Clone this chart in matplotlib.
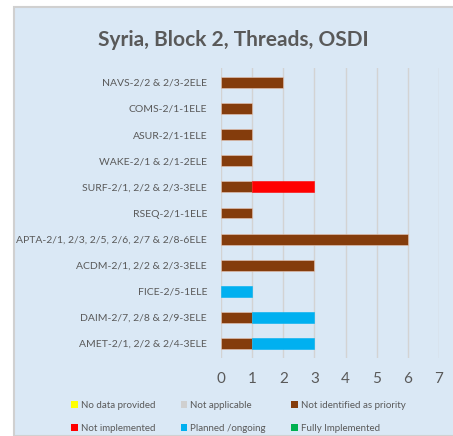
import matplotlib.pyplot as plt
import numpy as np
from matplotlib.patches import Rectangle, Patch

# categories from bottom to top
categories = ["AMET-2/1, 2/2 & 2/4-3ELE", "DAIM-2/7, 2/8 & 2/9-3ELE", "FICE-2/5-1ELE",
              "ACDM-2/1, 2/2 & 2/3-3ELE", "APTA-2/1, 2/3, 2/5, 2/6, 2/7 & 2/8-6ELE",
              "RSEQ-2/1-1ELE", "SURF-2/1, 2/2 & 2/3-3ELE", "WAKE-2/1 & 2/1-2ELE",
              "ASUR-2/1-1ELE", "COMS-2/1-1ELE", "NAVS-2/2 & 2/3-2ELE"]
no_data = [0, 0, 0, 0, 0, 0, 0, 0, 0, 0, 0]
not_applicable = [0, 0, 0, 0, 0, 0, 0, 0, 0, 0, 0]
not_priority = [1, 1, 0, 3, 6, 1, 1, 1, 1, 1, 2]
not_implemented = [0, 0, 0, 0, 0, 0, 2, 0, 0, 0, 0]
planned = [2, 2, 1, 0, 0, 0, 0, 0, 0, 0, 0]
fully = [0, 0, 0, 0, 0, 0, 0, 0, 0, 0, 0]

series_names = ["No data provided", "Not applicable", "Not identified as priority",
                "Not implemented", "Planned /ongoing", "Fully Implemented"]
series_colors = ["#FFFF00", "#D0D0D0", "#843C0C", "#FF0000", "#00B0F0", "#00B050"]
series_vals = [no_data, not_applicable, not_priority, not_implemented, planned, fully]

plt.rcParams['font.family'] = ['Lato', 'DejaVu Sans']

fig = plt.figure(figsize=(4.53, 4.36), dpi=100)
fig.patch.set_facecolor("white")
# light blue panel behind chart
fig.patches.append(Rectangle((14/453, 0), 1, 1 - 7/436, transform=fig.transFigure,
                             facecolor="#DAE8F5", edgecolor="#D0D0D0", linewidth=1.5, zorder=-1))

ax = fig.add_axes([221/453, 1 - 358/436, 218/453, 290/436])
ax.set_facecolor("none")

y = np.arange(len(categories))
left = np.zeros(len(categories))
for name, col, vals in zip(series_names, series_colors, series_vals):
    vals = np.array(vals, dtype=float)
    nz = vals > 0
    # chi ve cac doan khac 0 de khong co vien thua
    if nz.any():
        ax.barh(y[nz], vals[nz], left=left[nz], height=0.42, color=col,
                edgecolor="#E8C8B8" if col == "#843C0C" else col, linewidth=0.4, zorder=3)
    left += vals

ax.set_xlim(0, 7)
ax.set_ylim(-0.55, len(categories) - 0.45)
ax.set_xticks(range(8))
ax.set_yticks(y)
ax.set_yticklabels(categories, fontsize=7.5, color="#595959")
ax.tick_params(axis='x', labelsize=11, colors="#595959", length=0, pad=10)
ax.tick_params(axis='y', length=0, pad=10)
ax.grid(axis='x', color="#D3D3D3", linewidth=1.0, zorder=0)
for s in ax.spines.values():
    s.set_visible(False)

fig.text(233/453, 1 - 40/436, "Syria, Block 2, Threads, OSDI", ha="center", va="center",
         fontsize=15, fontweight="bold", color="#595959")

# legend fill theo cot nen doi thu tu de ra 2 hang
order = [0, 3, 1, 4, 2, 5]
handles = [Patch(facecolor=series_colors[i], edgecolor="none") for i in order]
labels = [series_names[i] for i in order]
fig.legend(handles, labels, loc="upper left", bbox_to_anchor=(71/453, 1 - 401/436), ncol=3,
           frameon=False, fontsize=7, labelcolor="#595959", handlelength=0.7, handleheight=0.7,
           handletextpad=0.3, columnspacing=2.6, labelspacing=1.4, borderpad=0, borderaxespad=0)

fig.savefig("out.png", dpi=100)
